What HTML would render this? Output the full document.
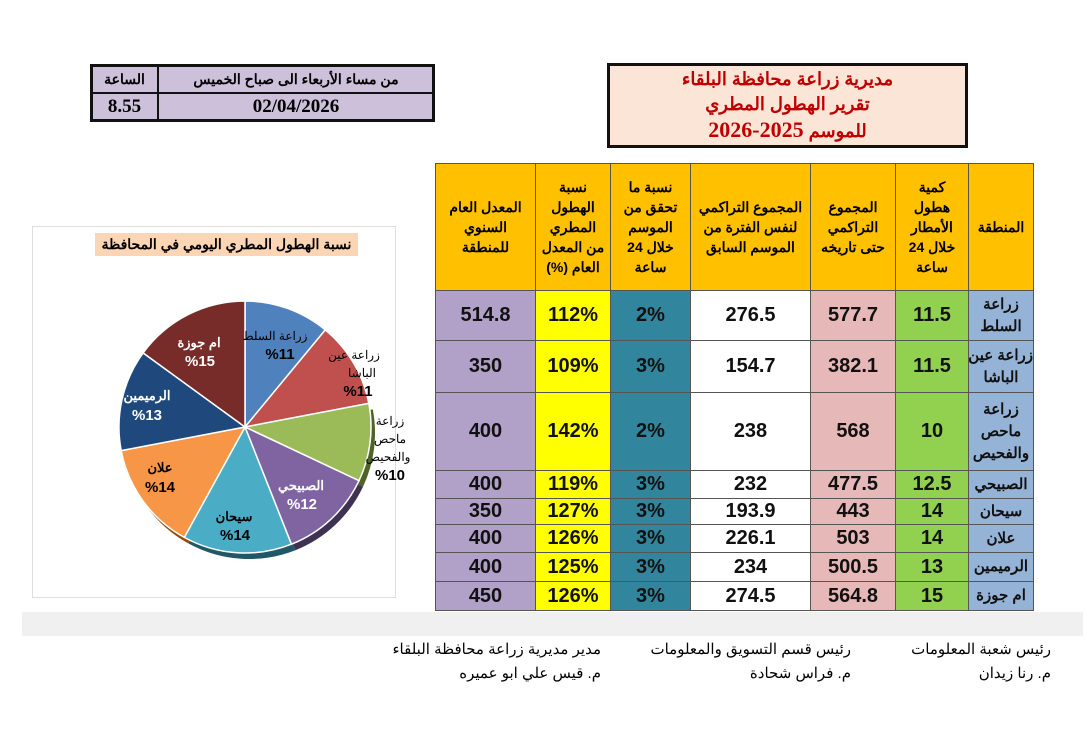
<!DOCTYPE html>
<html><head><meta charset="utf-8"><style>
body{margin:0;width:1091px;height:732px;background:#fff;position:relative;overflow:hidden;font-family:"Liberation Sans","Noto Sans CJK SC",sans-serif;}
.a{position:absolute;box-sizing:border-box;display:flex;align-items:center;justify-content:center;text-align:center;font-weight:bold;}
table{position:absolute;left:435px;top:163px;width:598px;table-layout:fixed;border-collapse:collapse;direction:rtl;}
td{border:1px solid #555;text-align:center;font-weight:bold;padding:0;font-size:20px;color:#111;overflow:hidden;white-space:nowrap;}
th{border:1px solid #555;background:#ffc000;font-size:14px;font-weight:bold;line-height:20px;padding:0;white-space:nowrap;overflow:hidden;}
.r{background:#95b3d7;font-size:15px;line-height:22px;}
.g{background:#92d050;}.p{background:#e6b8b7;}.w{background:#fff;}.t{background:#31859c;}.y{background:#ffff00;}.v{background:#b1a0c7;}
</style></head><body>
<div style="position:absolute;left:90px;top:64px;width:345px;height:58px;border:3px solid #111;background:#ccc0da;box-sizing:border-box"></div>
<div style="position:absolute;left:157px;top:64px;width:2px;height:58px;background:#111"></div>
<div style="position:absolute;left:90px;top:92px;width:345px;height:2px;background:#111"></div>
<div class="a" style="left:159px;top:66px;width:274px;height:26px;font-size:14px;direction:rtl">من مساء الأربعاء الى صباح الخميس</div>
<div class="a" style="left:92px;top:66px;width:65px;height:26px;font-size:14px">الساعة</div>
<div class="a" style="left:159px;top:94px;width:274px;height:26px;font-size:19px;font-family:'Liberation Serif',serif">02/04/2026</div>
<div class="a" style="left:92px;top:94px;width:65px;height:26px;font-size:19px;font-family:'Liberation Serif',serif">8.55</div>
<div class="a" style="left:607px;top:63px;width:361px;height:85px;border:3px solid #111;background:#fbe5d6;color:#c00000;flex-direction:column;font-size:18px;line-height:25px;direction:rtl">
<div>مديرية زراعة محافظة البلقاء</div><div>تقرير الهطول المطري</div><div>للموسم <span style="font-family:'Liberation Serif',serif;font-size:22px">2025-2026</span></div></div>
<div style="position:absolute;left:32px;top:226px;width:362px;height:370px;border:1px solid #ddd"></div>
<div class="a" style="left:95px;top:233px;width:263px;height:23px;background:#fcd5b5;font-size:14px;direction:rtl">نسبة الهطول المطري اليومي في المحافظة</div>
<svg style="position:absolute;left:0;top:0" width="1091" height="732">
<g transform="translate(4,6)" fill="#333">
<path d="M245,427 L368.8,403.4 A126,126 0 0 1 359,480.7Z" fill="#4f6228"/>
<path d="M245,427 L359,480.7 A126,126 0 0 1 291.4,544.2Z" fill="#3f3151"/>
<path d="M245,427 L291.4,544.2 A126,126 0 0 1 184.3,537.4Z" fill="#205867"/>
<path d="M245,427 L184.3,537.4 A126,126 0 0 1 121.2,450.6Z" fill="#984807"/>
</g>
<g stroke="#fff" stroke-width="1.5">
<path d="M245,427 L245,301 A126,126 0 0 1 325.3,329.9Z" fill="#4f81bd"/>
<path d="M245,427 L325.3,329.9 A126,126 0 0 1 368.8,403.4Z" fill="#c0504d"/>
<path d="M245,427 L368.8,403.4 A126,126 0 0 1 359,480.7Z" fill="#9bbb59"/>
<path d="M245,427 L359,480.7 A126,126 0 0 1 291.4,544.2Z" fill="#8064a2"/>
<path d="M245,427 L291.4,544.2 A126,126 0 0 1 184.3,537.4Z" fill="#4bacc6"/>
<path d="M245,427 L184.3,537.4 A126,126 0 0 1 121.2,450.6Z" fill="#f79646"/>
<path d="M245,427 L121.2,450.6 A126,126 0 0 1 143.1,352.9Z" fill="#1f497d"/>
<path d="M245,427 L143.1,352.9 A126,126 0 0 1 245,301Z" fill="#772c2a"/>
</g>
<g font-family="Liberation Sans,Noto Sans CJK SC,sans-serif" text-anchor="middle" font-weight="bold">
<text x="275" y="340" font-size="12" font-weight="normal">زراعة السلط</text><text x="280" y="359" font-size="15">%11</text>
<text x="354" y="359" font-size="12" font-weight="normal">زراعة عين</text><text x="362" y="377" font-size="12" font-weight="normal">الباشا</text><text x="358" y="396" font-size="15">%11</text>
<text x="390" y="425" font-size="12" font-weight="normal">زراعة</text><text x="390" y="443" font-size="12" font-weight="normal">ماحص</text><text x="388" y="461" font-size="12" font-weight="normal">والفحيص</text><text x="390" y="480" font-size="15">%10</text>
<text x="301" y="490" font-size="13" fill="#fff">الصبيحي</text><text x="302" y="509" font-size="15" fill="#fff">%12</text>
<text x="234" y="521" font-size="13">سيحان</text><text x="235" y="540" font-size="15">%14</text>
<text x="160" y="472" font-size="13">علان</text><text x="160" y="492" font-size="15">%14</text>
<text x="147" y="400" font-size="13" fill="#fff">الرميمين</text><text x="147" y="420" font-size="15" fill="#fff">%13</text>
<text x="199" y="347" font-size="13" fill="#fff">ام جوزة</text><text x="200" y="366" font-size="15" fill="#fff">%15</text>
</g></svg>
<table>
<colgroup><col style="width:65px"><col style="width:73px"><col style="width:85px"><col style="width:120px"><col style="width:80px"><col style="width:75px"><col style="width:100px"></colgroup>
<tr style="height:127px">
<th>المنطقة</th><th>كمية<br>هطول<br>الأمطار<br>خلال 24<br>ساعة</th><th>المجموع<br>التراكمي<br>حتى تاريخه</th><th>المجموع التراكمي<br>لنفس الفترة من<br>الموسم السابق</th><th>نسبة ما<br>تحقق من<br>الموسم<br>خلال 24<br>ساعة</th><th>نسبة<br>الهطول<br>المطري<br>من المعدل<br>العام (%)</th><th>المعدل العام<br>السنوي<br>للمنطقة</th></tr>
<tr style="height:50px"><td class="r">زراعة<br>السلط</td><td class="g">11.5</td><td class="p">577.7</td><td class="w">276.5</td><td class="t">2%</td><td class="y">112%</td><td class="v">514.8</td></tr>
<tr style="height:52px"><td class="r">زراعة عين<br>الباشا</td><td class="g">11.5</td><td class="p">382.1</td><td class="w">154.7</td><td class="t">3%</td><td class="y">109%</td><td class="v">350</td></tr>
<tr style="height:78px"><td class="r">زراعة<br>ماحص<br>والفحيص</td><td class="g">10</td><td class="p">568</td><td class="w">238</td><td class="t">2%</td><td class="y">142%</td><td class="v">400</td></tr>
<tr style="height:28px"><td class="r">الصبيحي</td><td class="g">12.5</td><td class="p">477.5</td><td class="w">232</td><td class="t">3%</td><td class="y">119%</td><td class="v">400</td></tr>
<tr style="height:26px"><td class="r">سيحان</td><td class="g">14</td><td class="p">443</td><td class="w">193.9</td><td class="t">3%</td><td class="y">127%</td><td class="v">350</td></tr>
<tr style="height:28px"><td class="r">علان</td><td class="g">14</td><td class="p">503</td><td class="w">226.1</td><td class="t">3%</td><td class="y">126%</td><td class="v">400</td></tr>
<tr style="height:29px"><td class="r">الرميمين</td><td class="g">13</td><td class="p">500.5</td><td class="w">234</td><td class="t">3%</td><td class="y">125%</td><td class="v">400</td></tr>
<tr style="height:29px"><td class="r">ام جوزة</td><td class="g">15</td><td class="p">564.8</td><td class="w">274.5</td><td class="t">3%</td><td class="y">126%</td><td class="v">450</td></tr>
</table>
<div style="position:absolute;left:22px;top:612px;width:1061px;height:24px;background:#f0f0f0"></div>
<div style="position:absolute;right:40px;top:638px;font-size:15px;direction:rtl;line-height:24px">رئيس شعبة المعلومات<br>م. رنا زيدان</div>
<div style="position:absolute;right:240px;top:638px;font-size:15px;direction:rtl;line-height:24px">رئيس قسم التسويق والمعلومات<br>م. فراس شحادة</div>
<div style="position:absolute;right:490px;top:638px;font-size:15px;direction:rtl;line-height:24px">مدير مديرية زراعة محافظة البلقاء<br>م. قيس علي ابو عميره</div>
</body></html>
